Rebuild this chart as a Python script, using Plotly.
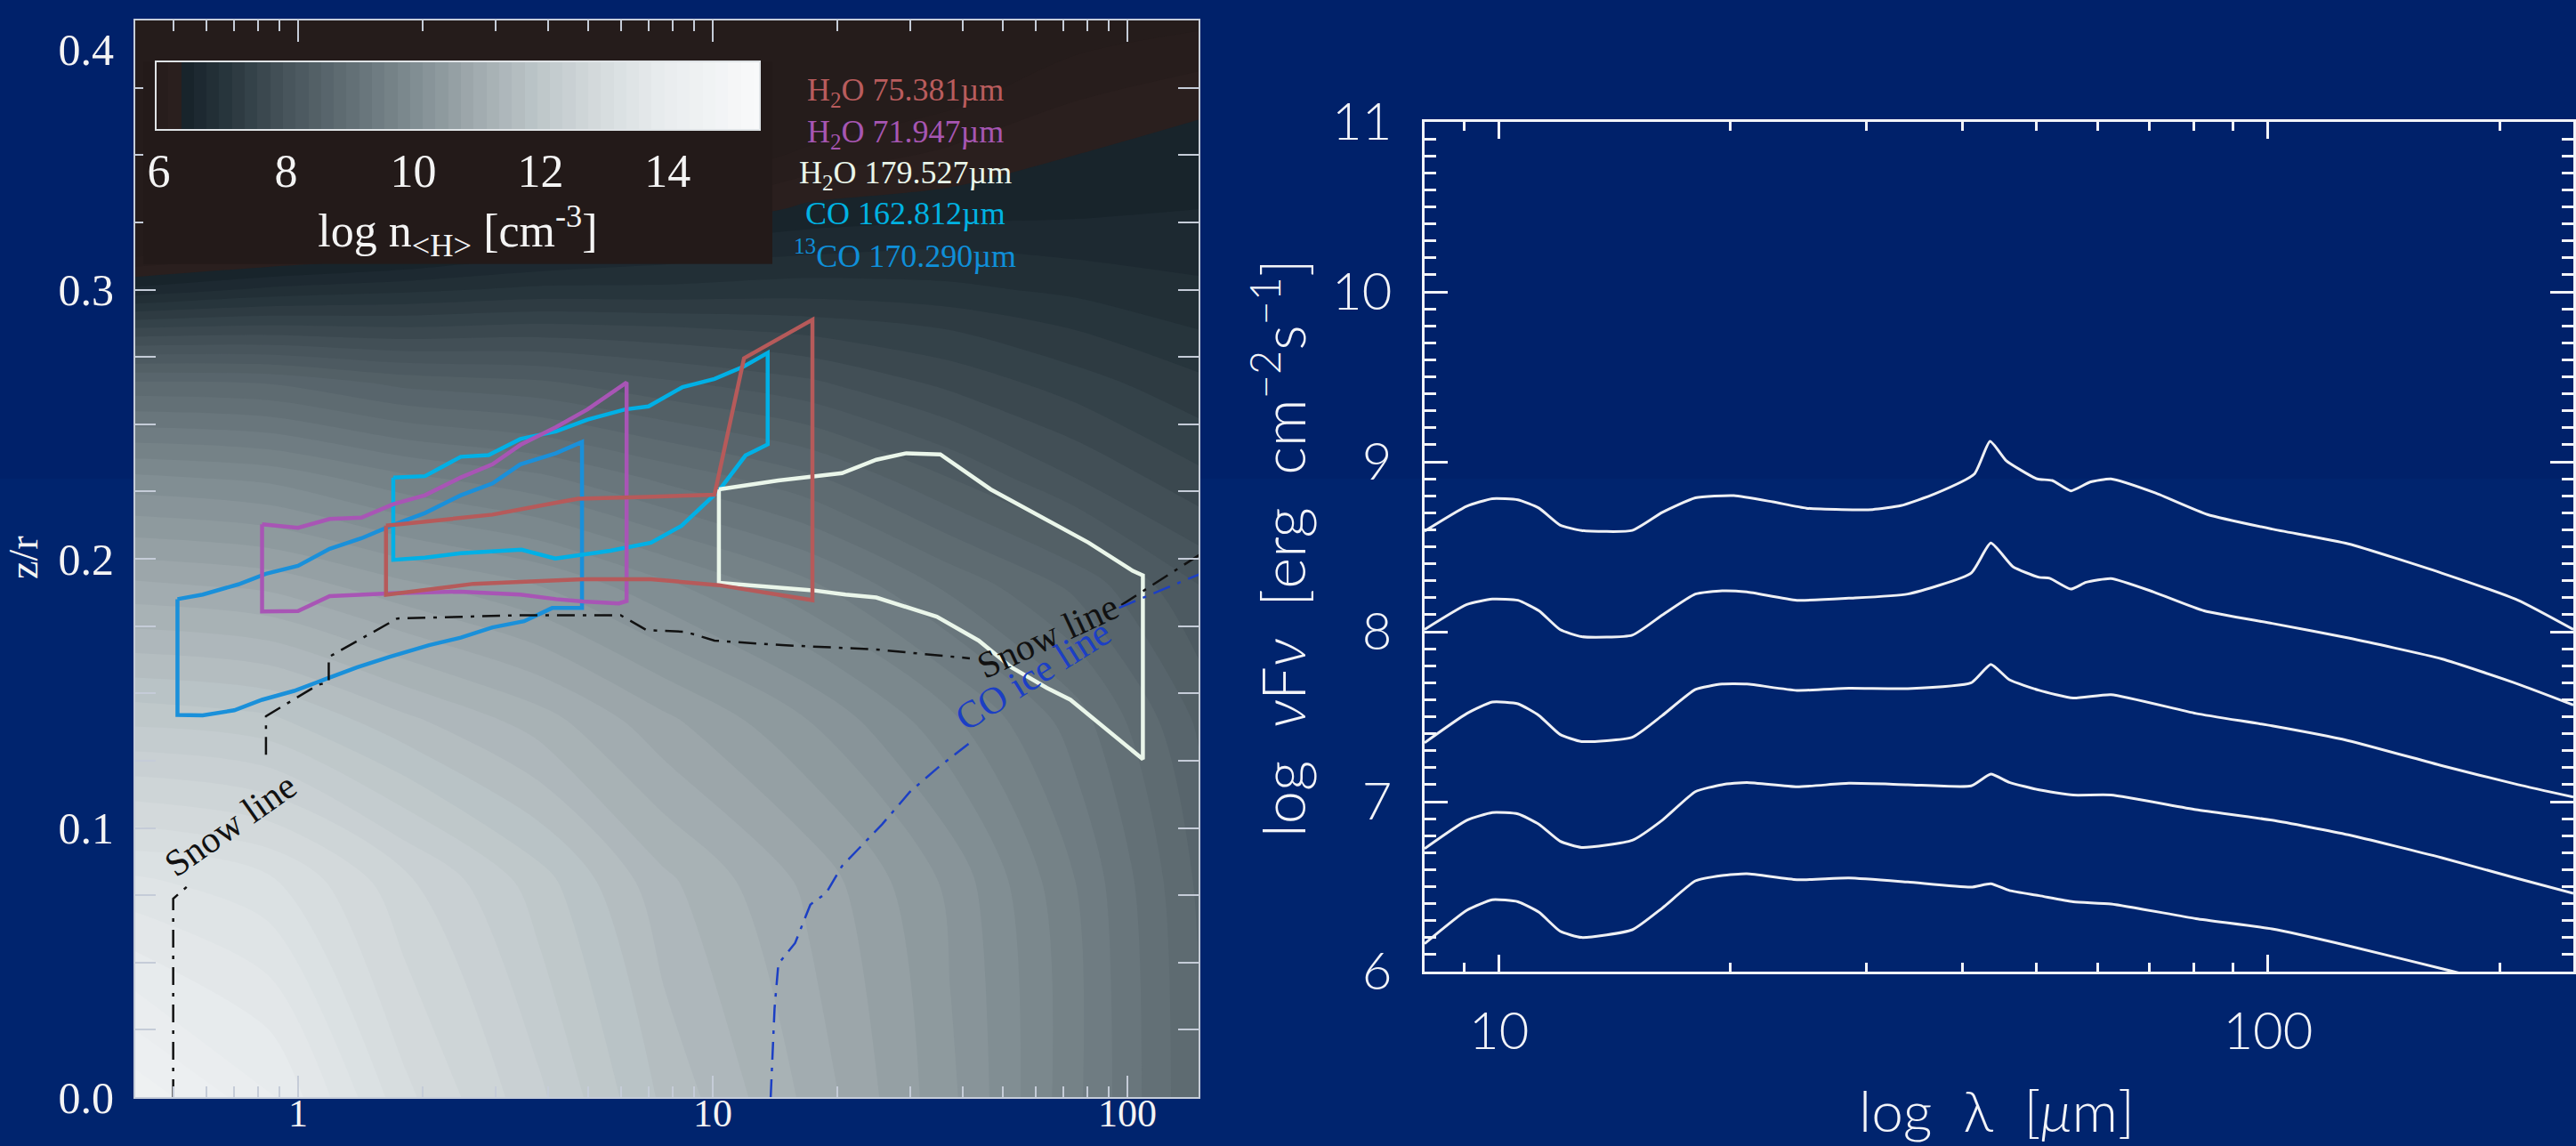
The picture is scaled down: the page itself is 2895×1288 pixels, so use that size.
import numpy as np
import plotly.graph_objects as go

# ---------------- LEFT PANEL DATA ----------------
# density map log n_<H> [cm^-3], read on a coarse grid (columns = r [AU], rows = z/r)
r_grid = [0.4, 0.85, 1.82, 3.8, 7.66, 17.0, 37.4, 75.0, 150.0]
zr_grid = [0.0, 0.08, 0.14, 0.19, 0.23, 0.265, 0.285, 0.30, 0.315, 0.33, 0.35, 0.37, 0.40]
logn_r0p4 = [14.5, 13.4, 12.1, 11.0, 10.0, 8.8, 7.6, 6.6, 5.8, 5.5, 5.3, 5.1, 5.0]
logn_r0p85 = [14.0, 13.2, 12.0, 10.9, 9.9, 8.75, 7.65, 6.8, 6.0, 5.6, 5.35, 5.15, 5.0]
logn_r1p8 = [13.0, 12.6, 11.6, 10.6, 9.6, 8.5, 7.6, 6.9, 6.2, 5.7, 5.4, 5.2, 5.0]
logn_r3p8 = [12.4, 12.05, 11.25, 10.35, 9.4, 8.4, 7.65, 7.0, 6.45, 5.9, 5.5, 5.25, 5.0]
logn_r7p7 = [11.7, 11.4, 10.8, 10.0, 9.1, 8.2, 7.6, 7.0, 6.6, 6.1, 5.7, 5.4, 5.0]
logn_r17 = [11.1, 10.9, 10.35, 9.6, 8.8, 8.0, 7.5, 7.05, 6.7, 6.4, 6.0, 5.7, 5.3]
logn_r37 = [10.4, 10.3, 9.8, 9.1, 8.35, 7.7, 7.35, 7.0, 6.75, 6.45, 6.2, 5.9, 5.5]
logn_r75 = [9.6, 9.55, 9.25, 8.7, 7.95, 7.45, 7.15, 6.9, 6.7, 6.5, 6.35, 6.15, 5.8]
logn_r150 = [8.75, 8.7, 8.5, 8.15, 7.6, 7.2, 6.95, 6.8, 6.65, 6.55, 6.45, 6.3, 5.9]

# colour scale of the density map (value -> colour)
cs_vals = [5.95, 6.3, 6.4, 7.0, 8.0, 9.0, 10.0, 11.0, 12.0, 13.0, 14.0, 15.45]
cs_cols = ['#251c1b', '#2b201e', '#17222a', '#25333a', '#46535a', '#616e74',
           '#7e8b90', '#9fa9ad', '#bcc5c8', '#d5dbdd', '#e8ecee', '#f8f9fa']
cb_ticks = [6, 8, 10, 12, 14]

# y tick labels of the left panel (top one set below its tick, as in the figure)
zr_ticks = [0.0, 0.1, 0.2, 0.3, 0.4]
zr_ticktext = ['0.0', '0.1', '0.2', '0.3', '<br>0.4']

# emitting regions (r [AU], z/r)
r_13co = [0.512, 0.589, 0.718, 0.837, 1.0, 1.192, 1.422, 1.697, 2.024, 2.469, 2.944, 3.436, 4.19, 4.84,
          4.84, 4.10, 3.51, 2.944, 2.469, 2.07, 1.659, 1.391, 1.166, 0.978, 0.819, 0.702, 0.589, 0.512, 0.512]
z_13co = [0.185, 0.1867, 0.1905, 0.1944, 0.1974, 0.2037, 0.2076, 0.2126, 0.217, 0.2236, 0.228, 0.2351, 0.2392, 0.2434,
          0.1817, 0.1817, 0.1768, 0.1745, 0.1707, 0.1679, 0.1635, 0.1597, 0.1553, 0.1509, 0.1476, 0.1437, 0.1418, 0.142, 0.185]

r_co = [1.697, 2.024, 2.469, 2.88, 3.436, 4.19, 4.99, 6.15, 7.0, 8.46, 10.1, 11.9, 13.57,
        13.57, 12.0, 10.35, 8.4, 7.1, 5.66, 4.17, 3.46, 2.469, 2.024, 1.697, 1.697]
z_co = [0.2302, 0.2307, 0.2379, 0.2385, 0.2445, 0.2473, 0.2517, 0.2555, 0.2566, 0.2638, 0.2668, 0.2715, 0.2765,
        0.2425, 0.2384, 0.2253, 0.2122, 0.206, 0.203, 0.2001, 0.2034, 0.2021, 0.2004, 0.1996, 0.2302]

r_h2o179 = [10.35, 14.4, 20.5, 24.8, 29.3, 35.4, 46.8, 58.0, 80.6, 103.0, 109.0,
            109.0, 72.9, 64.0, 52.5, 43.8, 34.7, 24.8, 20.9, 17.4, 10.35, 10.35]
z_h2o179 = [0.2258, 0.2291, 0.2318, 0.2368, 0.2392, 0.2388, 0.2258, 0.2181, 0.206, 0.1955, 0.1938,
            0.1255, 0.1476, 0.152, 0.1597, 0.1696, 0.1785, 0.1856, 0.1867, 0.1883, 0.1911, 0.2258]

r_h2o72 = [0.819, 1.0, 1.192, 1.422, 1.697, 2.024, 2.469, 2.944, 3.436, 4.19, 4.99, 6.2,
           6.2, 5.94, 4.87, 4.19, 3.436, 2.469, 1.697, 1.192, 1.0, 0.819, 0.819]
z_h2o72 = [0.2128, 0.2115, 0.2148, 0.2153, 0.2203, 0.2236, 0.2302, 0.2351, 0.2423, 0.2489, 0.2555, 0.2655,
           0.1843, 0.1834, 0.1841, 0.185, 0.1867, 0.1878, 0.1872, 0.1861, 0.1806, 0.1804, 0.2128]

r_h2o75 = [1.63, 2.163, 2.944, 4.19, 4.74, 6.92, 10.1, 11.9, 17.4,
           17.4, 10.35, 7.1, 4.86, 2.65, 1.63, 1.63]
z_h2o75 = [0.2123, 0.2142, 0.2164, 0.2208, 0.2223, 0.223, 0.2238, 0.2745, 0.2888,
           0.1846, 0.1902, 0.1924, 0.1924, 0.1907, 0.1866, 0.2123]

# snow line and CO ice line (None = gap where the label sits)
r_snow = [0.50, 0.50, 0.539, None, 0.837, 0.837, 1.116, 1.186, 1.186, 1.734, 3.36, 6.0, 6.92, 8.57,
          10.1, 14.7, 24.8, 41.7, None, 96.7, 150.0]
z_snow = [0.0, 0.0737, 0.0781, None, 0.1272, 0.1415, 0.1531, 0.1542, 0.1635, 0.1778, 0.179, 0.179, 0.1735, 0.1729,
          0.1696, 0.1679, 0.1663, 0.163, None, 0.1828, 0.2017]
r_coice = [13.8, 14.1, 14.4, 15.8, 17.2, 18.8, 20.5, 25.6, 29.9, 34.8, 41.6, None, 95.5, 150.0]
z_coice = [0.0, 0.033, 0.0495, 0.0572, 0.0715, 0.0759, 0.0858, 0.1013, 0.1134, 0.1222, 0.1315, None, 0.1818, 0.1944]

# ---------------- RIGHT PANEL DATA (SEDs) ----------------
sed1_lam = [8.0, 9.08, 9.80, 10.58, 11.27, 12.0, 12.8, 14.9, 16.3, 18.0, 20.2, 22.7, 25.1, 27.9, 30.6, 33.3,
            36.9, 41.5, 43.5, 45.6, 47.7, 50.1, 52.4, 55.4, 58.7, 62.5, 71.3, 83.4, 101.2, 127.2, 168.2, 211.4, 249.5]
sed1_val = [8.592, 8.739, 8.783, 8.776, 8.727, 8.628, 8.596, 8.596, 8.702, 8.788, 8.801, 8.764, 8.727, 8.719,
            8.719, 8.742, 8.812, 8.928, 9.120, 9.009, 8.951, 8.899, 8.890, 8.829, 8.881, 8.899, 8.817, 8.690,
            8.604, 8.517, 8.345, 8.185, 8.013]
sed2_lam = [8.0, 9.08, 9.80, 10.58, 11.27, 12.0, 12.8, 14.9, 16.3, 18.0, 19.5, 21.0, 24.4, 28.5, 34.0, 41.1,
            43.6, 46.6, 50.4, 52.0, 55.4, 58.0, 62.5, 71.0, 82.6, 101.2, 127.2, 168.2, 211.4, 249.5]
sed2_val = [8.013, 8.160, 8.192, 8.185, 8.123, 8.013, 7.971, 7.980, 8.098, 8.222, 8.241, 8.234, 8.185, 8.197,
            8.222, 8.345, 8.522, 8.382, 8.320, 8.315, 8.251, 8.291, 8.313, 8.234, 8.123, 8.049, 7.963, 7.840,
            7.692, 7.569]
sed3_lam = [8.0, 9.08, 9.80, 10.58, 11.27, 12.0, 12.8, 14.9, 16.3, 18.0, 19.5, 21.0, 24.4, 28.5, 34.0, 41.1,
            43.6, 46.1, 50.4, 55.8, 62.5, 80.6, 101.2, 127.2, 168.2, 211.4, 249.5]
sed3_val = [7.347, 7.519, 7.586, 7.576, 7.507, 7.396, 7.354, 7.379, 7.507, 7.660, 7.692, 7.692, 7.655, 7.667,
            7.665, 7.699, 7.808, 7.717, 7.655, 7.610, 7.630, 7.519, 7.446, 7.359, 7.212, 7.100, 7.027]
sed4_lam = sed3_lam
sed4_val = [6.724, 6.891, 6.936, 6.928, 6.867, 6.768, 6.731, 6.773, 6.891, 7.059, 7.100, 7.113, 7.088, 7.108,
            7.100, 7.093, 7.162, 7.113, 7.069, 7.039, 7.039, 6.953, 6.891, 6.805, 6.670, 6.547, 6.460]
sed5_lam = [8.0, 9.08, 9.80, 10.58, 11.27, 12.0, 12.8, 14.9, 16.3, 18.0, 19.5, 21.0, 24.4, 28.5, 34.0, 41.1,
            43.6, 46.1, 50.4, 55.8, 62.5, 80.6, 101.2, 127.2, 172.5, 211.0]
sed5_val = [6.164, 6.361, 6.423, 6.411, 6.349, 6.238, 6.201, 6.246, 6.374, 6.534, 6.566, 6.576, 6.541, 6.551,
            6.527, 6.497, 6.517, 6.477, 6.447, 6.411, 6.398, 6.312, 6.251, 6.152, 6.005, 5.906]

# ---------------- FIGURE ----------------
W, H = 2895, 1288
SERIF = 'Liberation Serif'
SANS = 'Lato'


def px(X):
    return X / W


def py(Y):
    return 1 - Y / H


LX = [px(152), px(1347)]
LY = [py(1233), py(23)]
RX = [px(1601), px(2892)]
RY = [py(1092), py(137)]
xr_left = [np.log10(0.405), np.log10(148.5)]

fig = go.Figure()

lo, hi = cs_vals[0], cs_vals[-1]
colorscale = [[(v - lo) / (hi - lo), c] for v, c in zip(cs_vals, cs_cols)]
zmat = np.array([logn_r0p4, logn_r0p85, logn_r1p8, logn_r3p8, logn_r7p7,
                 logn_r17, logn_r37, logn_r75, logn_r150]).T

fig.add_trace(go.Contour(
    x=np.log10(r_grid), y=zr_grid, z=zmat, xaxis='x', yaxis='y',
    colorscale=colorscale, zmin=lo, zmax=hi,
    contours=dict(start=lo, end=hi, size=0.2, coloring='fill', showlines=False),
    line=dict(width=0, smoothing=0.8), hoverinfo='skip',
    colorbar=dict(orientation='h', x=px(514.5), xanchor='center', y=py(69), yanchor='top',
                  len=705 / W, lenmode='fraction', thickness=77, thicknessmode='pixels',
                  xpad=13, ypad=0, outlinecolor='#dfe3e6', outlinewidth=2, bgcolor='#231a19',
                  tickvals=cb_ticks, ticks='',
                  tickfont=dict(family=SERIF, size=52, color='#f4f4f4'),
                  title=dict(text='log n<sub>&lt;H&gt;</sub> [cm<sup>-3</sup>]', side='bottom',
                             font=dict(family=SERIF, size=52, color='#f4f4f4'))),
))

poly_style = [
    (r_13co, z_13co, '#1a90da'),
    (r_co, z_co, '#00b0e6'),
    (r_h2o179, z_h2o179, '#eaf6ea'),
    (r_h2o72, z_h2o72, '#a855b5'),
    (r_h2o75, z_h2o75, '#b65a5a'),
]
for rr, zz, col in poly_style:
    fig.add_trace(go.Scatter(x=rr, y=zz, xaxis='x3', yaxis='y', mode='lines',
                             line=dict(color=col, width=4.5), hoverinfo='skip'))

fig.add_trace(go.Scatter(x=r_snow, y=z_snow, xaxis='x3', yaxis='y', mode='lines', connectgaps=False,
                         line=dict(color='#111111', width=2.5, dash='20px,9px,4px,9px'), hoverinfo='skip'))
fig.add_trace(go.Scatter(x=r_coice, y=z_coice, xaxis='x3', yaxis='y', mode='lines', connectgaps=False,
                         line=dict(color='#1c3fc4', width=2.5, dash='20px,9px,4px,9px'), hoverinfo='skip'))

for lam, val in [(sed1_lam, sed1_val), (sed2_lam, sed2_val), (sed3_lam, sed3_val),
                 (sed4_lam, sed4_val), (sed5_lam, sed5_val)]:
    fig.add_trace(go.Scatter(x=lam, y=val, xaxis='x2', yaxis='y2', mode='lines',
                             line=dict(color='#eef0f4', width=3, shape='spline', smoothing=0.5),
                             hoverinfo='skip'))

left_axis_col = '#c5ccd8'
minor_left_x = [0.5, 0.6, 0.7, 0.8, 0.9, 2, 3, 4, 5, 6, 7, 8, 9, 20, 30, 40, 50, 60, 70, 80, 90]
minor_right_x = [9, 20, 30, 40, 50, 60, 70, 80, 90, 200]

fig.update_layout(
    width=W, height=H, margin=dict(l=0, r=0, t=0, b=0, autoexpand=False),
    paper_bgcolor='#00246e', plot_bgcolor='rgba(0,0,0,0)', showlegend=False,
    xaxis=dict(domain=LX, range=xr_left, visible=False, anchor='y', fixedrange=True),
    xaxis3=dict(overlaying='x', anchor='y', type='log', range=xr_left,
                showline=True, linecolor=left_axis_col, linewidth=2, mirror='allticks',
                ticks='inside', ticklen=24, tickwidth=2, tickcolor=left_axis_col,
                tickvals=[1, 10, 100], ticktext=['1', '10', '100'], showgrid=False, zeroline=False,
                tickfont=dict(family=SERIF, size=44, color='#f4f4f4'), ticklabelstandoff=-22,
                ticklabeloverflow='allow',
                minor=dict(tickvals=minor_left_x, ticks='inside', ticklen=12, tickwidth=2,
                           tickcolor=left_axis_col, showgrid=False)),
    yaxis=dict(domain=LY, range=[0, 0.4], anchor='x',
               showline=True, linecolor=left_axis_col, linewidth=2, mirror='allticks',
               ticks='inside', ticklen=23, tickwidth=2, tickcolor=left_axis_col,
               tickvals=zr_ticks, ticktext=zr_ticktext, showgrid=False, zeroline=False,
               tickfont=dict(family=SERIF, size=50, color='#f4f4f4'), ticklabelstandoff=12,
               ticklabeloverflow='allow',
               minor=dict(dtick=0.025, ticks='inside', ticklen=11, tickwidth=2,
                          tickcolor=left_axis_col, showgrid=False)),
    xaxis2=dict(domain=RX, anchor='y2', type='log', range=[np.log10(8.0), np.log10(249.5)],
                showline=True, linecolor='#f2f4f8', linewidth=3, mirror='allticks',
                ticks='inside', ticklen=19, tickwidth=3, tickcolor='#f2f4f8',
                tickvals=[10, 100], ticktext=['10', '100'], showgrid=False, zeroline=False,
                tickfont=dict(family=SANS, size=58, color='#f2f4f8', weight=300),
                ticklabelstandoff=14, ticklabeloverflow='allow',
                minor=dict(tickvals=minor_right_x, ticks='inside', ticklen=10, tickwidth=3,
                           tickcolor='#f2f4f8', showgrid=False)),
    yaxis2=dict(domain=RY, anchor='x2', range=[6, 11],
                showline=True, linecolor='#f2f4f8', linewidth=3, mirror='allticks',
                ticks='inside', ticklen=26, tickwidth=3, tickcolor='#f2f4f8',
                tickvals=[6, 7, 8, 9, 10, 11], showgrid=False, zeroline=False,
                tickfont=dict(family=SANS, size=58, color='#f2f4f8', weight=300),
                ticklabelstandoff=22, ticklabeloverflow='allow',
                minor=dict(dtick=0.1, ticks='inside', ticklen=13, tickwidth=3,
                           tickcolor='#f2f4f8', showgrid=False)),
    shapes=[
        dict(type='rect', xref='paper', yref='paper', x0=0, x1=1, y0=py(538), y1=1,
             fillcolor='#00216a', line=dict(width=0), layer='below'),
    ],
)

ann = []
legend_items = [
    ('H<sub>2</sub>O 75.381µm', '#b95c5d', 103),
    ('H<sub>2</sub>O 71.947µm', '#a656b2', 150),
    ('H<sub>2</sub>O 179.527µm', '#e9f5e9', 196),
    ('CO 162.812µm', '#00b2e2', 240),
    ('<sup>13</sup>CO 170.290µm', '#0f8fd9', 285),
]
for txt, col, Y in legend_items:
    ann.append(dict(text=txt, x=px(1017), y=py(Y), xref='paper', yref='paper', showarrow=False,
                    xanchor='center', yanchor='middle', font=dict(family=SERIF, size=36, color=col)))

ann += [
    dict(text='Snow line', x=np.log10(0.687), y=0.1013, xref='x3', yref='y', showarrow=False,
         xanchor='center', yanchor='middle',
         textangle=-35, font=dict(family=SERIF, size=42, color='#111111')),
    dict(text='Snow line', x=np.log10(64.3), y=0.1712, xref='x3', yref='y', showarrow=False,
         xanchor='center', yanchor='middle',
         textangle=-25, font=dict(family=SERIF, size=42, color='#111111')),
    dict(text='CO ice line', x=np.log10(59.2), y=0.1569, xref='x3', yref='y', showarrow=False,
         xanchor='center', yanchor='middle',
         textangle=-32, font=dict(family=SERIF, size=43, color='#1c3fc4')),
    dict(text='z/r', x=px(26), y=py(627), xref='paper', yref='paper', showarrow=False,
         xanchor='center', yanchor='middle',
         textangle=-90, font=dict(family=SERIF, size=46, color='#f4f4f4')),
    dict(text='log  <i>ν</i>F<i>ν</i>  [erg  cm<sup>−2</sup>s<sup>−1</sup>]', x=px(1437), y=py(616),
         xref='paper', yref='paper', showarrow=False, textangle=-90,
         xanchor='center', yanchor='middle',
         font=dict(family=SANS, size=67, color='#f2f4f8', weight=300)),
    dict(text='log  λ  [<i>μ</i>m]', x=px(2244), y=py(1247), xref='paper', yref='paper', showarrow=False,
         xanchor='center', yanchor='middle',
         font=dict(family=SANS, size=64, color='#f2f4f8', weight=300)),
]
fig.update_layout(annotations=ann)

fig.write_html('out.html')
